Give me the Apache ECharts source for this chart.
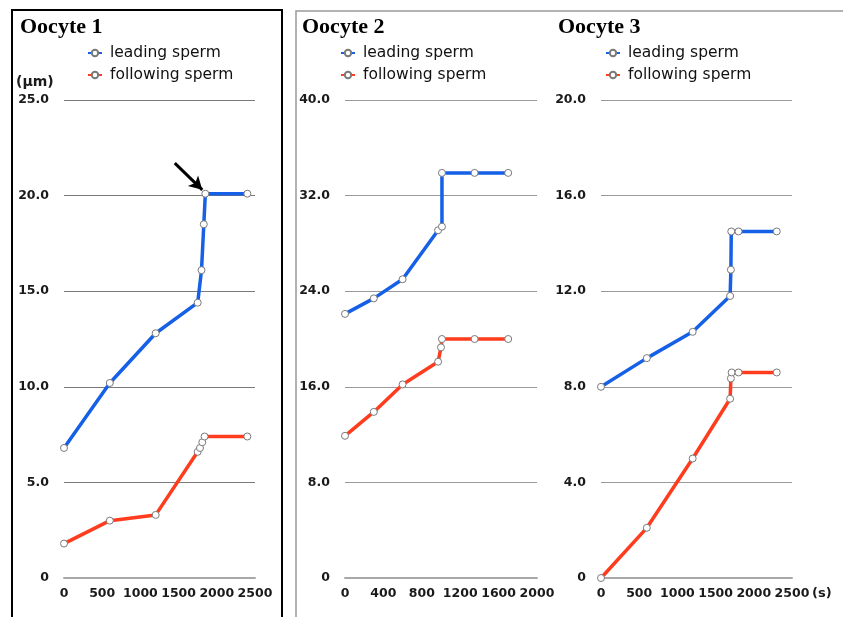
<!DOCTYPE html>
<html>
<head>
<meta charset="utf-8">
<script src="https://cdn.jsdelivr.net/npm/echarts@6/dist/echarts.min.js"></script>
<style>
html,body{margin:0;padding:0;background:#fff;}
#chart{width:843px;height:617px;}
</style>
</head>
<body>
<div id="chart"></div>
<script>
// ---- Data (time in s, distance in µm) ----
const panelTitles = ['Oocyte 1', 'Oocyte 2', 'Oocyte 3'];
const seriesNames = ['leading sperm', 'following sperm'];

const o1LeadTime   = [0, 600, 1200, 1750, 1800, 1830, 1850, 2400];
const o1Lead       = [6.8, 10.2, 12.8, 14.4, 16.1, 18.5, 20.1, 20.1];
const o1FollowTime = [0, 600, 1200, 1750, 1780, 1810, 1840, 2400];
const o1Follow     = [1.8, 3.0, 3.3, 6.6, 6.8, 7.1, 7.4, 7.4];

const o2LeadTime   = [0, 300, 600, 970, 1010, 1010, 1350, 1700];
const o2Lead       = [22.1, 23.4, 25.0, 29.1, 29.4, 33.9, 33.9, 33.9];
const o2FollowTime = [0, 300, 600, 970, 1000, 1010, 1350, 1700];
const o2Follow     = [11.9, 13.9, 16.2, 18.1, 19.3, 20.0, 20.0, 20.0];

const o3LeadTime   = [0, 600, 1200, 1690, 1700, 1705, 1800, 2300];
const o3Lead       = [8.0, 9.2, 10.3, 11.8, 12.9, 14.5, 14.5, 14.5];
const o3FollowTime = [0, 600, 1200, 1690, 1700, 1710, 1800, 2300];
const o3Follow     = [0.0, 2.1, 5.0, 7.5, 8.35, 8.6, 8.6, 8.6];

const xMax      = [2500, 2000, 2500];
const xInterval = [500, 400, 500];
const yMax      = [25, 40, 20];
const yInterval = [5, 8, 4];

// annotation arrow (data coords in Oocyte 1)
const arrowFrom = [1450, 21.7];
const arrowTo   = [1810, 20.3];

// ---- Build ----
const pairs = (t, v) => t.map((x, i) => [x, v[i]]);
const panels = [
  {lead: pairs(o1LeadTime, o1Lead), follow: pairs(o1FollowTime, o1Follow)},
  {lead: pairs(o2LeadTime, o2Lead), follow: pairs(o2FollowTime, o2Follow)},
  {lead: pairs(o3LeadTime, o3Lead), follow: pairs(o3FollowTime, o3Follow)}
];

const BLUE = '#1560e6';
const RED = '#ff3c1e';
const FONT = 'DejaVu Sans';

const gridLefts = [64, 345, 601];
const gridWidths = [191, 192, 191];
const titleLefts = [20, 302, 558];
const legendMarkers = [89, 342, 607];

const grids = gridLefts.map((l, i) => ({left: l, width: gridWidths[i], top: 100, height: 478}));

const tickFont = {color: '#1a1a1a', fontFamily: FONT, fontSize: 12.5, fontWeight: 'bold'};

const xAxes = panels.map((p, i) => ({
  type: 'value', gridIndex: i, min: 0, max: xMax[i], interval: xInterval[i],
  axisLine: {show: true, lineStyle: {color: '#a8a8a8', width: 2}},
  axisTick: {show: false},
  splitLine: {show: false},
  axisLabel: Object.assign({margin: 9, showMaxLabel: true, showMinLabel: true,
    formatter: v => String(v)}, tickFont)
}));

const yAxes = panels.map((p, i) => ({
  type: 'value', gridIndex: i, min: 0, max: yMax[i], interval: yInterval[i],
  axisLine: {show: false}, axisTick: {show: false},
  splitLine: {show: true, lineStyle: {color: i === 0 ? '#7a7a7a' : '#9a9a9a', width: 1}},
  axisLabel: Object.assign({margin: 15,
    formatter: v => v === 0 ? '0' : v.toFixed(1)}, tickFont)
}));

const series = [];
panels.forEach((p, i) => {
  [['lead', BLUE, seriesNames[0]], ['follow', RED, seriesNames[1]]].forEach(([k, c, n]) => {
    const s = {
      name: n, type: 'line', xAxisIndex: i, yAxisIndex: i,
      data: p[k], symbol: 'circle', symbolSize: 7, showSymbol: true,
      lineStyle: {color: c, width: 3.5},
      itemStyle: {color: '#fff', borderColor: '#7a7a7a', borderWidth: 1},
      z: k === 'lead' ? 3 : 2
    };
    if (i === 0 && k === 'lead') {
      s.markLine = {
        silent: true, symbol: ['none', 'arrow'], symbolSize: [11, 13],
        lineStyle: {color: '#000', width: 3, type: 'solid'},
        label: {show: false},
        data: [[{coord: arrowFrom}, {coord: arrowTo}]]
      };
    }
    series.push(s);
  });
});

const legends = legendMarkers.map(m => ({
  data: seriesNames, orient: 'vertical', left: m - 7, top: 40,
  itemWidth: 14, itemHeight: 8, itemGap: 6,
  selectedMode: false,
  textStyle: {fontFamily: FONT, fontSize: 15.5, color: '#111', lineHeight: 16, padding: [0, 0, 0, 3]}
}));

const titles = panelTitles.map((t, i) => ({
  text: t, left: titleLefts[i], top: 16, padding: 0,
  textStyle: {fontFamily: 'Liberation Serif', fontWeight: 'bold', fontSize: 22, color: '#000'}
}));

const chart = echarts.init(document.getElementById('chart'), null, {renderer: 'canvas'});
chart.setOption({
  animation: false,
  backgroundColor: '#fff',
  title: titles,
  legend: legends,
  grid: grids,
  xAxis: xAxes,
  yAxis: yAxes,
  series: series,
  graphic: [
    {type: 'rect', shape: {x: 12, y: 10, width: 270, height: 640}, style: {fill: 'none', stroke: '#000', lineWidth: 2}, silent: true, z: 100},
    {type: 'rect', shape: {x: 296, y: 11, width: 580, height: 640}, style: {fill: 'none', stroke: '#999', lineWidth: 1.5}, silent: true, z: 100},
    {type: 'text', left: 16, top: 75, style: {text: '(μm)', font: 'bold 14px "DejaVu Sans"', fill: '#1a1a1a'}, silent: true},
    {type: 'text', left: 812, top: 587, style: {text: '(s)', font: 'bold 13px "DejaVu Sans"', fill: '#1a1a1a'}, silent: true}
  ]
});
</script>
</body>
</html>
